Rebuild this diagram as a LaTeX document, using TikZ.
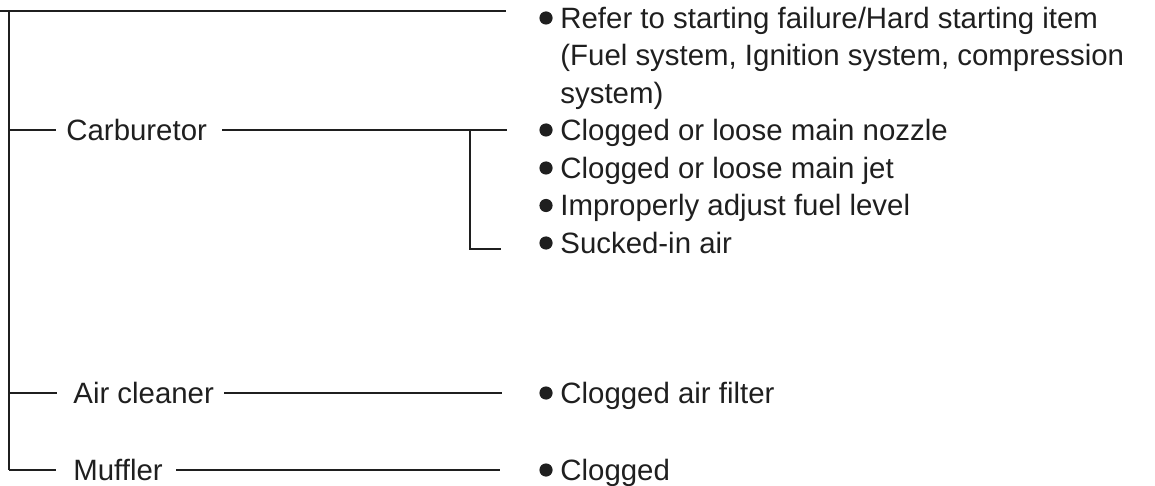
\documentclass[tikz,border=0pt]{standalone}
\usepackage{fontspec}
\setmainfont{Liberation Sans}

\begin{document}
\begin{tikzpicture}[
    x=0.5pt,y=-0.5pt,
    font=\fontsize{14.7}{18.75}\selectfont,
    wire/.style={line width=1.1pt, draw=black!88},
    part/.style={anchor=base west, inner sep=0pt, text=black!88},
    item/.style={anchor=base west, inner sep=0pt, align=left, text=black!88},
    dot/.style={circle, fill=black!88, inner sep=0pt, minimum size=6.6pt}
]
\useasboundingbox (0,0) rectangle (1155,486);

% -----------------------------------------------------------------------------
% Trunk
% -----------------------------------------------------------------------------
\coordinate (topL) at (0,11);
\coordinate (top) at (9,11);
\coordinate (topR) at (506,11);
\coordinate (jCarb) at (9,130);
\coordinate (jAir) at (9,393);
\coordinate (jMuf) at (9,470);

\draw[wire] (topL) -- (topR);
\draw[wire] (top) -- (jMuf);

% -----------------------------------------------------------------------------
% Parts
% -----------------------------------------------------------------------------
\node[part] (carb) at (66,140.5) {Carburetor};
\node[part] (air) at (73,403.5) {Air cleaner};
\node[part] (muf) at (73,480.5) {Muffler};

\coordinate (carbL) at (56,130);
\coordinate (carbA) at (222,130);
\coordinate (carbR) at (507,130);
\coordinate (carbT) at (470,130);
\coordinate (carbB) at (470,249);
\coordinate (carbBR) at (501,249);
\coordinate (airL) at (57,393);
\coordinate (airA) at (224,393);
\coordinate (airR) at (502,393);
\coordinate (mufL) at (56,470);
\coordinate (mufA) at (176,470);
\coordinate (mufR) at (500,470);

\draw[wire] (jCarb) -- (carbL);
\draw[wire] (carbA) -- (carbR);
\draw[wire] (carbT) -- (carbB) -- (carbBR);
\draw[wire] (jAir) -- (airL);
\draw[wire] (airA) -- (airR);
\draw[wire] (jMuf) -- (mufL);
\draw[wire] (mufA) -- (mufR);

% -----------------------------------------------------------------------------
% Causes
% -----------------------------------------------------------------------------
\node[dot] (d0) at (546,18) {};
\node[item] (c0) at (560,103.5)
    {Refer to starting failure/Hard starting item\\
     (Fuel system, Ignition system, compression\\
     system)};

\node[dot] (d1) at (546,130) {};
\node[item] (c1) at (560,140.5) {Clogged or loose main nozzle};
\node[dot] (d2) at (546,168) {};
\node[item] (c2) at (560,178.5) {Clogged or loose main jet};
\node[dot] (d3) at (546,205.5) {};
\node[item] (c3) at (560,216) {Improperly adjust fuel level};
\node[dot] (d4) at (546,243) {};
\node[item] (c4) at (560,253.5) {Sucked-in air};

\node[dot] (d5) at (546,393) {};
\node[item] (c5) at (560,403.5) {Clogged air filter};
\node[dot] (d6) at (546,470) {};
\node[item] (c6) at (560,480.5) {Clogged};

\end{tikzpicture}
\end{document}
